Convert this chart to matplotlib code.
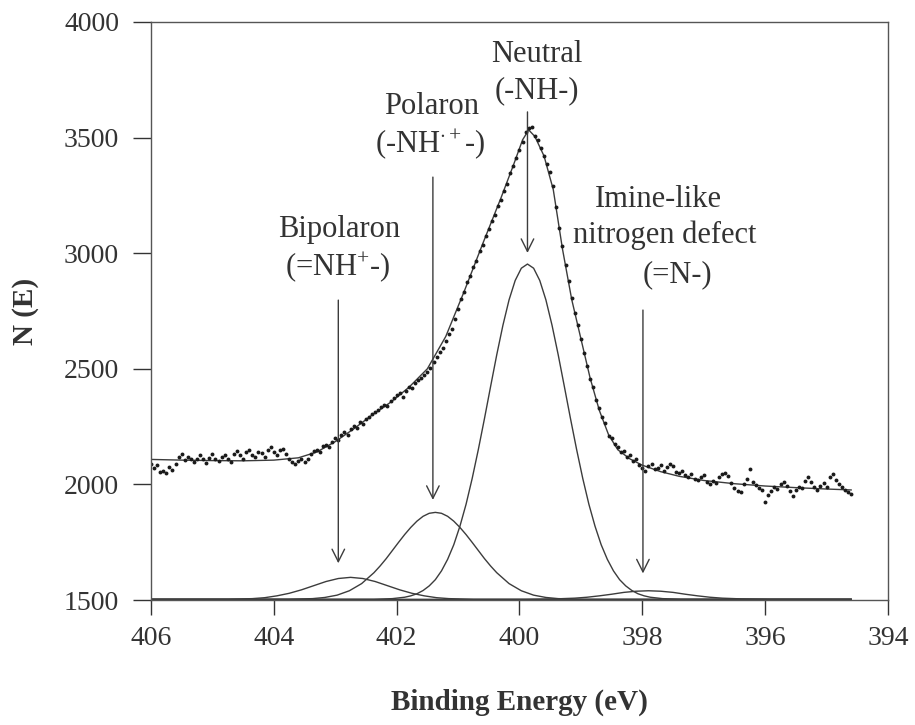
import numpy as np
import matplotlib.pyplot as plt

# N 1s spectrum, raw counts every 0.05 eV starting at 406.0 eV
counts = [
    2090, 2070, 2082, 2055, 2060, 2048, 2075, 2062, 2090, 2118,
    2130, 2105, 2120, 2112, 2098, 2110, 2125, 2108, 2092, 2115,
    2132, 2110, 2100, 2120, 2128, 2112, 2095, 2130, 2145, 2125,
    2110, 2138, 2150, 2128, 2118, 2140, 2135, 2120, 2150, 2162,
    2140, 2125, 2148, 2155, 2130, 2112, 2095, 2088, 2102, 2110,
    2095, 2108, 2130, 2145, 2150, 2138, 2165, 2172, 2160, 2185,
    2200, 2190, 2212, 2228, 2215, 2240, 2252, 2245, 2268, 2262,
    2285, 2290, 2305, 2312, 2320, 2335, 2345, 2340, 2360, 2375,
    2388, 2395, 2380, 2405, 2420, 2415, 2440, 2450, 2462, 2475,
    2488, 2505, 2530, 2550, 2572, 2590, 2620, 2650, 2672, 2715,
    2760, 2800, 2830, 2875, 2900, 2940, 2965, 3010, 3035, 3075,
    3105, 3140, 3165, 3205, 3232, 3270, 3300, 3345, 3375, 3410,
    3445, 3480, 3525, 3540, 3545, 3505, 3490, 3455, 3420, 3385,
    3350, 3290, 3200, 3110, 3030, 2950, 2880, 2805, 2740, 2690,
    2630, 2570, 2510, 2455, 2420, 2365, 2330, 2290, 2265, 2210,
    2200, 2175, 2160, 2140, 2145, 2118, 2125, 2100, 2108, 2085,
    2070, 2060, 2078, 2090, 2065, 2072, 2085, 2060, 2075, 2090,
    2078, 2055, 2048, 2060, 2040, 2030, 2045, 2025, 2018, 2030,
    2042, 2010, 2000, 2015, 2008, 2030, 2045, 2050, 2035, 2005,
    1985, 1970, 1965, 2000, 2025, 2068, 2010, 1998, 1985, 1975,
    1925, 1955, 1970, 1990, 1978, 2000, 2012, 1995, 1970, 1950,
    1975, 1990, 1985, 2015, 2030, 2010, 1990, 1975, 1995, 2005,
    1990, 2030, 2045, 2020, 2000, 1990, 1975, 1965, 1960,
]
energy = np.round(406.0 - 0.05 * np.arange(len(counts)), 2)

# fitted envelope
env_energy = [406.0, 405.5, 405.0, 404.5, 404.0, 403.6, 403.3, 403.0, 402.7, 402.4,
              402.1, 401.8, 401.5, 401.2, 400.9, 400.6, 400.3, 400.1, 399.95, 399.85,
              399.75, 399.6, 399.45, 399.3, 399.15, 399.0, 398.85, 398.7, 398.55, 398.4,
              398.2, 398.0, 397.7, 397.4, 397.0, 396.5, 396.0, 395.5, 395.0, 394.6]
env_counts = [2108, 2105, 2103, 2102, 2105, 2115, 2140, 2185, 2240, 2300,
              2355, 2420, 2500, 2640, 2835, 3040, 3240, 3380, 3490, 3533,
              3505, 3420, 3275, 3018, 2800, 2630, 2460, 2320, 2215, 2150,
              2110, 2083, 2055, 2035, 2017, 2003, 1993, 1986, 1980, 1976]

# fitted components (tails run flat out to the ends of the scan)
neutral_energy = [406.0, 402.37, 402.07, 401.87, 401.77, 401.67, 401.57, 401.47, 401.37, 401.27, 401.17,
                  401.07, 400.97, 400.87, 400.77, 400.67, 400.57, 400.47, 400.37, 400.27, 400.17,
                  400.07, 399.97, 399.87, 399.77, 399.67, 399.57, 399.47, 399.37, 399.27, 399.17,
                  399.07, 398.97, 398.87, 398.77, 398.67, 398.57, 398.47, 398.37, 398.27, 398.17,
                  398.07, 397.97, 397.87, 397.67, 397.37, 394.6]
neutral_counts = [1503, 1503, 1506, 1512, 1518, 1527, 1541, 1561, 1588, 1626, 1676,
                  1739, 1819, 1914, 2026, 2151, 2285, 2424, 2561, 2688, 2798,
                  2882, 2935, 2953, 2935, 2882, 2798, 2688, 2561, 2424, 2285,
                  2151, 2026, 1914, 1819, 1739, 1676, 1626, 1588, 1561, 1541,
                  1527, 1518, 1512, 1506, 1503, 1503]

polaron_energy = [406.0, 403.77, 403.37, 403.17, 402.97, 402.77, 402.57, 402.37, 402.27, 402.17, 402.07,
                  401.97, 401.87, 401.77, 401.67, 401.57, 401.47, 401.37, 401.27, 401.17, 401.07,
                  400.97, 400.87, 400.77, 400.67, 400.57, 400.47, 400.37, 400.17, 399.97, 399.77,
                  399.57, 399.37, 398.97, 394.6]
polaron_counts = [1503, 1503, 1506, 1511, 1521, 1540, 1571, 1618, 1647, 1679, 1714,
                  1749, 1783, 1814, 1841, 1862, 1875, 1879, 1875, 1862, 1841,
                  1814, 1783, 1749, 1714, 1679, 1647, 1618, 1571, 1540, 1521,
                  1511, 1506, 1503, 1503]

bipolaron_energy = [406.0, 404.75, 404.35, 404.15, 403.95, 403.75, 403.55, 403.35, 403.15, 402.95, 402.75,
                    402.55, 402.35, 402.15, 401.95, 401.75, 401.55, 401.35, 401.15, 400.75, 394.6]
bipolaron_counts = [1503, 1503, 1506, 1510, 1518, 1529, 1544, 1562, 1580, 1593, 1598,
                    1593, 1580, 1562, 1544, 1529, 1518, 1510, 1506, 1503, 1503]

imine_energy = [406.0, 399.9, 399.4, 399.1, 398.9, 398.7, 398.5, 398.3, 398.1, 397.9,
                397.7, 397.5, 397.3, 397.1, 396.9, 396.7, 396.4, 395.9, 394.6]
imine_counts = [1503, 1503, 1505, 1508, 1512, 1518, 1525, 1533, 1538, 1540,
                1538, 1533, 1525, 1518, 1512, 1508, 1505, 1503, 1503]

xticks = [406, 404, 402, 400, 398, 396, 394]
yticks = [1500, 2000, 2500, 3000, 3500, 4000]

plt.rcParams['font.family'] = ['Liberation Serif', 'DejaVu Serif']
plt.rcParams['mathtext.fontset'] = 'custom'
plt.rcParams['mathtext.rm'] = 'Liberation Serif'
plt.rcParams['mathtext.it'] = 'Liberation Serif:italic'

INK = '#333333'
LINE = '#3c3c3c'

fig = plt.figure(figsize=(9.15, 7.25), dpi=100)
ax = fig.add_axes([0.165, 0.1724, 0.8055, 0.7973])

for e, c in [(neutral_energy, neutral_counts), (polaron_energy, polaron_counts),
             (bipolaron_energy, bipolaron_counts), (imine_energy, imine_counts)]:
    ax.plot(e, c, color=LINE, lw=1.0)
ax.plot(env_energy, env_counts, color=LINE, lw=1.0)
ax.plot(energy, counts, 'o', ms=2.8, color='#1a1a1a', mec='none')

# peak labels and arrows
labels = [
    (399.72, 3827, 'Neutral'),
    (399.72, 3671, '(-NH-)'),
    (401.43, 3602, 'Polaron'),
    (401.45, 3438, r'(-NH$^{\cdot+}$-)'),
    (402.94, 3070, 'Bipolaron'),
    (402.96, 2906, r'(=NH$^{+}$-)'),
    (397.74, 3200, 'Imine-like'),
    (397.64, 3044, 'nitrogen defect'),
    (397.43, 2875, '(=N-)'),
]
for x, y, s in labels:
    ax.text(x, y, s, ha='center', va='baseline', fontsize=22, color=INK)

arrows = [(399.87, 3611, 3001), (401.41, 3329, 1933),
          (402.95, 2797, 1659), (397.99, 2754, 1615)]
for x, y0, y1 in arrows:
    ax.annotate('', xy=(x, y1), xytext=(x, y0),
                arrowprops=dict(arrowstyle='->,head_length=0.6,head_width=0.3',
                                color=LINE, lw=1.0, mutation_scale=15,
                                shrinkA=0, shrinkB=0))

ax.set_xlim(406, 394)
ax.set_ylim(1500, 4000)
ax.set_xticks(xticks)
ax.set_yticks(yticks)
ax.tick_params(axis='both', direction='out', labelsize=20, colors=INK, width=1.0)
ax.tick_params(axis='y', length=13, pad=10)
ax.tick_params(axis='x', length=11, pad=8)
for sp in ax.spines.values():
    sp.set_color('#555555')
    sp.set_linewidth(1.0)

ax.set_xlabel('Binding Energy (eV)', fontsize=21, fontweight='bold', color=INK, labelpad=27)
ax.set_ylabel('N (E)', fontsize=21, fontweight='bold', color=INK, labelpad=18)

fig.savefig('out.png', dpi=100)
